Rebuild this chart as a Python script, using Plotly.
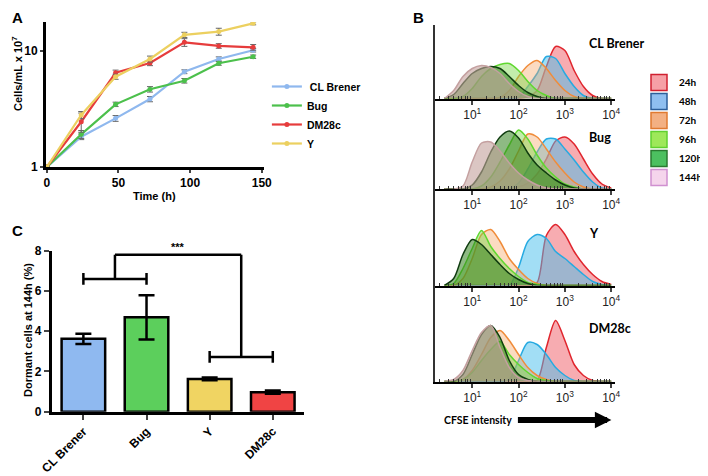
import plotly.graph_objects as go

# The page body adds an 8px margin, so the figure is 700x468 placed at (8, 8)
OFF = 8
W, H = 700, 468

def fx(px):
    return (px - OFF) / W

def fy(py):
    return 1 - (py - OFF) / H

ARIAL = "Liberation Sans"
CALIBRI = "Lato"

# ---------------- Panel A: growth curves ----------------
time_h = [0, 24, 48, 72, 96, 120, 144]
growth_names = ["CL Brener", "Bug", "DM28c", "Y"]
growth_colors = ["#8fb8ee", "#4cc04c", "#e63c3c", "#ecd060"]
cl_brener = [1, 1.82, 2.62, 3.84, 6.6, 8.5, 10.1]
cl_brener_err = [0, 0.1, 0.15, 0.2, 0.25, 0.35, 0.35]
bug = [1, 1.91, 3.46, 4.66, 5.52, 7.8, 8.88]
bug_err = [0, 0.15, 0.15, 0.25, 0.25, 0.3, 0.3]
dm28c = [1, 2.45, 6.46, 7.84, 11.8, 11.0, 10.7]
dm28c_err = [0, 0.46, 0.35, 0.4, 0.9, 0.5, 0.6]
y_strain = [1, 2.8, 5.98, 8.49, 13.7, 14.6, 17.2]
y_strain_err = [0, 0.2, 0.3, 0.5, 0.7, 1.0, 0.5]

# ---------------- Panel C: dormant cells ----------------
dormant_names = ["CL Brener", "Bug", "Y", "DM28c"]
dormant_colors = ["#8fb9f0", "#5ccf5c", "#f0d462", "#f04444"]
dormant_pct = [3.62, 4.69, 1.63, 0.97]
dormant_err = [0.25, 1.1, 0.07, 0.08]
sig_groups = [[0, 1], [2, 3]]
sig_group_y = [6.6, 2.72]
sig_top_y = 7.8
sig_label = "***"

# ---------------- Panel B: CFSE histograms ----------------
cfse_log_bins = [0.4, 0.6, 0.8, 1.0, 1.2, 1.4, 1.6, 1.8, 2.0, 2.2,
                 2.4, 2.6, 2.8, 3.0, 3.2, 3.4, 3.6, 3.8, 4.0]
timepoints = ["24h", "48h", "72h", "96h", "120h", "144h"]
tp_line = ["#e0262e", "#27aae1", "#f08c3a", "#5fd82f", "#103c10", "#c4a0a0"]
tp_fill = ["rgba(240,90,100,0.50)", "rgba(70,190,235,0.50)", "rgba(245,165,100,0.40)",
           "rgba(120,215,70,0.45)", "rgba(50,130,30,0.55)", "rgba(195,160,155,0.60)"]
tp_legend_fill = ["#f6a0a6", "#8fbff0", "#f3b083", "#9ee85a", "#4cc060", "#f5d5ec"]
tp_legend_line = ["#d02030", "#2d5f9a", "#e07a30", "#60d030", "#2a7a30", "#d090d0"]

hist_cl_brener = [
    [0, 0, 0, 0, 0, 0, 0, 0, 0, 2, 8, 32, 52, 48, 28, 12, 3, 0, 0],
    [0, 0, 0, 0, 0, 0, 0, 0, 1, 12, 25, 42, 40, 25, 12, 3, 0, 0, 0],
    [0, 0, 0, 0, 0, 0, 1, 8, 22, 33, 38, 30, 18, 8, 2, 0, 0, 0, 0],
    [0, 0, 2, 10, 22, 30, 34, 35, 28, 17, 8, 3, 0, 0, 0, 0, 0, 0, 0],
    [0, 4, 15, 25, 30, 32, 30, 22, 13, 6, 2, 0, 0, 0, 0, 0, 0, 0, 0],
    [0, 8, 22, 30, 33, 31, 25, 15, 7, 2, 0, 0, 0, 0, 0, 0, 0, 0, 0],
]
hist_bug = [
    [0, 0, 0, 0, 0, 0, 0, 0, 2, 6, 15, 30, 48, 52, 45, 30, 15, 5, 1],
    [0, 0, 0, 0, 0, 0, 0, 0, 6, 20, 37, 50, 50, 40, 29, 17, 7, 1, 0],
    [0, 0, 0, 0, 0, 2, 8, 20, 38, 55, 52, 40, 27, 16, 7, 2, 0, 0, 0],
    [0, 0, 0, 0, 3, 12, 27, 44, 59, 50, 34, 21, 12, 5, 2, 0, 0, 0, 0],
    [0, 0, 0, 4, 17, 37, 52, 58, 51, 36, 24, 16, 9, 4, 1, 0, 0, 0, 0],
    [0, 0, 3, 27, 46, 47, 38, 26, 16, 9, 4, 1, 0, 0, 0, 0, 0, 0, 0],
]
hist_y = [
    [0, 0, 0, 0, 0, 0, 0, 0, 0, 0, 3, 50, 61, 51, 34, 21, 11, 4, 1],
    [0, 0, 0, 0, 0, 0, 0, 0, 18, 44, 51, 47, 34, 27, 19, 11, 4, 1, 0],
    [0, 0, 7, 27, 51, 56, 44, 27, 16, 7, 2, 0, 0, 0, 0, 0, 0, 0, 0],
    [0, 2, 17, 37, 55, 39, 27, 17, 9, 3, 1, 0, 0, 0, 0, 0, 0, 0, 0],
    [0, 7, 31, 46, 41, 31, 21, 12, 6, 2, 0, 0, 0, 0, 0, 0, 0, 0, 0],
    None,
]
hist_dm28c = [
    [0, 0, 0, 0, 0, 0, 0, 0, 0, 0, 1, 34, 61, 41, 17, 6, 1, 0, 0],
    [0, 0, 0, 0, 0, 0, 0, 2, 21, 39, 37, 27, 14, 6, 1, 0, 0, 0, 0],
    [0, 0, 2, 11, 27, 44, 51, 41, 27, 14, 6, 2, 0, 0, 0, 0, 0, 0, 0],
    [0, 0, 2, 9, 21, 32, 40, 27, 17, 9, 3, 1, 0, 0, 0, 0, 0, 0, 0],
    [0, 0, 7, 27, 47, 56, 44, 21, 7, 2, 0, 0, 0, 0, 0, 0, 0, 0, 0],
    [0, 2, 11, 31, 49, 56, 34, 14, 4, 1, 0, 0, 0, 0, 0, 0, 0, 0, 0],
]
hist_names = ["CL Brener", "Bug", "Y", "DM28c"]
hist_sets = [hist_cl_brener, hist_bug, hist_y, hist_dm28c]
cfse_ticks = [1, 2, 3, 4]

fig = go.Figure()

# ---- Panel A traces
for name, vals, err, col in zip(growth_names,
                                [cl_brener, bug, dm28c, y_strain],
                                [cl_brener_err, bug_err, dm28c_err, y_strain_err],
                                growth_colors):
    fig.add_trace(go.Scatter(
        x=time_h, y=vals, mode="lines+markers",
        name=(" " + name) if name == "CL Brener" else name,
        line=dict(color=col, width=2.2), marker=dict(color=col, size=5),
        error_y=dict(type="data", array=err, color="#666666", thickness=1, width=3),
        xaxis="x", yaxis="y", legend="legend"))

# ---- Panel C traces
idx = list(range(len(dormant_names)))
fig.add_trace(go.Bar(
    x=idx, y=dormant_pct, width=0.69,
    marker=dict(color=dormant_colors, line=dict(color="black", width=2.5)),
    error_y=dict(type="data", array=dormant_err, color="black", thickness=2.5, width=8),
    xaxis="x2", yaxis="y2", showlegend=False))

cap = 0.29
bx, by = [], []
for (a, b), g in zip(sig_groups, sig_group_y):
    bx += [a, a, None, a, b, None, b, b, None, (a + b) / 2, (a + b) / 2, None]
    by += [g - cap, g + cap, None, g, g, None, g - cap, g + cap, None, g, sig_top_y, None]
mids = [(a + b) / 2 for a, b in sig_groups]
bx += [mids[0], mids[1]]
by += [sig_top_y, sig_top_y]
fig.add_trace(go.Scatter(x=bx, y=by, mode="lines", line=dict(color="black", width=2.5),
                         xaxis="x2", yaxis="y2", showlegend=False, hoverinfo="skip"))

# ---- Panel B traces
cfse_x = [10 ** b for b in cfse_log_bins]
for k, hs in enumerate(hist_sets):
    ax = str(3 + k)
    for t, h in enumerate(hs):
        if h is None:
            continue
        fig.add_trace(go.Scatter(
            x=cfse_x, y=h, mode="lines", fill="tozeroy",
            line=dict(color=tp_line[t], width=1.5, shape="spline", smoothing=0.8),
            fillcolor=tp_fill[t], xaxis="x" + ax, yaxis="y" + ax,
            showlegend=False, name=timepoints[t]))
# legend entries for B
for t, tp in enumerate(timepoints):
    fig.add_trace(go.Scatter(
        x=[None], y=[None], mode="markers", name=tp,
        marker=dict(symbol="square", size=16, color=tp_legend_fill[t],
                    line=dict(color=tp_legend_line[t], width=1.5)),
        xaxis="x3", yaxis="y3", legend="legend2"))

axis_font = dict(family=ARIAL, size=12, color="black", weight="bold")

layout = dict(
    template="none",
    width=W, height=H, autosize=False,
    margin=dict(l=0, r=0, t=0, b=0, pad=0),
    paper_bgcolor="white", plot_bgcolor="rgba(0,0,0,0)",
    font=dict(family=ARIAL, color="black"),
    # Panel A
    xaxis=dict(domain=[fx(46), fx(265)], range=[-0.7, 151.5], anchor="y", automargin=False,
               tickvals=[0, 50, 100, 150], showline=True, linecolor="black", linewidth=2.5,
               ticks="outside", ticklen=3, tickwidth=1.5, showgrid=False, zeroline=False,
               tickfont=axis_font),
    yaxis=dict(domain=[fy(167), fy(22)], type="log", range=[0, 1.247], anchor="x",
               automargin=False,
               tickvals=[1, 10], ticktext=["1", "10"], showline=True, linecolor="black",
               linewidth=2.5, ticks="outside", ticklen=3, tickwidth=1.5, showgrid=False,
               zeroline=False, tickfont=axis_font),
    # Panel C
    xaxis2=dict(domain=[fx(52), fx(305)], range=[-0.5, 3.49], anchor="y2", automargin=False,
                tickmode="array", tickvals=idx, ticktext=dormant_names, tickangle=-45,
                showline=True, linecolor="black", linewidth=3, ticks="outside", ticklen=5,
                tickwidth=2, showgrid=False, zeroline=False, tickfont=axis_font),
    yaxis2=dict(domain=[fy(411.7), fy(250.7)], range=[0, 8], anchor="x2", automargin=False,
                tickvals=[0, 2, 4, 6, 8], showline=True, linecolor="black", linewidth=3,
                ticks="outside", ticklen=5, tickwidth=2, showgrid=False, zeroline=False,
                tickfont=axis_font),
    legend=dict(x=fx(268), y=fy(72), xanchor="left", yanchor="top", bgcolor="rgba(0,0,0,0)",
                font=dict(family=ARIAL, size=10.5, color="black", weight="bold"),
                tracegroupgap=0, itemwidth=30),
    legend2=dict(x=fx(642), y=fy(68), xanchor="left", yanchor="top", bgcolor="rgba(0,0,0,0)",
                 font=dict(family=CALIBRI, size=10, color="black", weight="bold"),
                 tracegroupgap=0, itemwidth=30),
)

panel_bottoms = [98.5, 189, 285.5, 381.5]
panel_tops = [25, 98.5, 189, 285.5]
minor_vals = [m * 10 ** e for e in range(0, 4) for m in range(2, 10)]
for k in range(4):
    n = str(3 + k)
    layout["xaxis" + n] = dict(
        domain=[fx(437), fx(618)], type="log", range=[0.2, 4.09], anchor="y" + n,
        automargin=False,
        tickmode="array", tickvals=[10 ** t for t in cfse_ticks],
        ticktext=["10<sup>%d</sup>" % t for t in cfse_ticks],
        showline=True, linecolor="black", linewidth=2, ticks="outside", ticklen=4,
        tickwidth=1.5, showgrid=False, zeroline=False,
        tickfont=dict(family=ARIAL, size=12, color="#222222"),
        minor=dict(tickmode="array", tickvals=minor_vals, ticks="inside", ticklen=3,
                   tickwidth=1, tickcolor="#333333", showgrid=False))
    hgt = panel_bottoms[k] - panel_tops[k]
    layout["yaxis" + n] = dict(
        domain=[fy(panel_bottoms[k]), fy(panel_tops[k])], range=[0, hgt], anchor="x" + n,
        automargin=False,
        showline=True, linecolor="#333333", linewidth=2, showticklabels=False, ticks="",
        showgrid=False, zeroline=False)

fig.update_layout(**layout)


def label(text, px, py, size, family=ARIAL, angle=0, xanchor="center"):
    return dict(text=text, x=fx(px), y=fy(py), xref="paper", yref="paper",
                showarrow=False, textangle=angle, xanchor=xanchor, yanchor="middle",
                font=dict(family=family, size=size, color="black", weight="bold"))


ann = [
    label("A", 10, 17, 15, xanchor="left"),
    label("B", 413, 17, 15, xanchor="left"),
    label("C", 10, 230, 15, xanchor="left"),
    label("Cells/mL x 10<sup>7</sup>", 17, 74, 11, angle=-90),
    label("Time (h)", 155, 196, 11),
    label("Dormant cells at 144h (%)", 28, 330, 11, angle=-90),
    label("CFSE intensity", 480, 420, 10.5, family=CALIBRI),
]
ann.append(dict(text=sig_label, x=sum(mids) / 2, y=sig_top_y, xref="x2", yref="y2",
                showarrow=False, xanchor="center", yanchor="bottom", yshift=0,
                font=dict(family=ARIAL, size=11, weight="bold", color="black")))
label_y = [44, 137, 233, 328]
for name, ly in zip(hist_names, label_y):
    ann.append(label(name, 589, ly, 12.5, family=CALIBRI, xanchor="left"))
ann.append(dict(text="", x=fx(614), y=fy(420), xref="paper", yref="paper",
                ax=-95, ay=0, showarrow=True, arrowhead=2, arrowsize=0.55, arrowwidth=6,
                arrowcolor="black"))
fig.update_layout(annotations=ann)

fig.write_html("out.html")
